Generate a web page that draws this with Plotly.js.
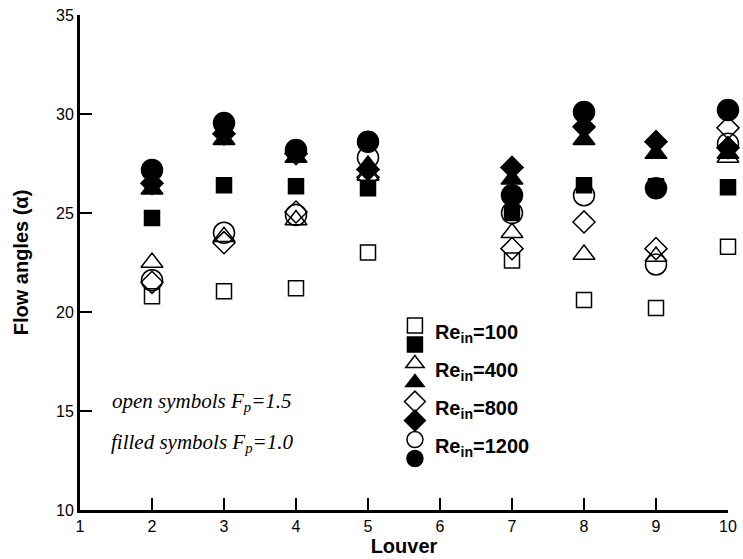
<!DOCTYPE html>
<html>
<head>
<meta charset="utf-8">
<script src="https://cdn.plot.ly/plotly-3.0.1.min.js"></script>
<style>html,body{margin:0;padding:0;background:#fff}#chart{width:743px;height:559px}</style>
</head>
<body>
<div id="chart"></div>
<script>
// Louver positions with measurements (louver 6 has no data)
var louvers = [2, 3, 4, 5, 7, 8, 9, 10];

// Open symbols: Fp = 1.5 ; filled symbols: Fp = 1.0
var open100    = [20.8, 21.05, 21.2, 23.0, 22.6, 20.6, 20.2, 23.3];
var filled100  = [24.75, 26.4, 26.35, 26.25, 25.0, 26.4, 26.35, 26.3];
var open400    = [22.5, 23.8, 24.65, 26.9, 24.0, 22.9, 22.8, 27.8];
var filled400  = [26.2, 28.7, 27.8, 27.4, 26.7, 28.7, 28.0, 28.0];
var open800    = [21.5, 23.5, 25.05, 26.8, 23.2, 24.55, 23.2, 29.3];
var filled800  = [26.5, 29.0, 28.0, 27.2, 27.3, 29.35, 28.6, 28.3];
var open1200   = [21.6, 24.0, 24.9, 27.8, 25.0, 25.9, 22.4, 28.5];
var filled1200 = [27.17, 29.55, 28.18, 28.6, 25.9, 30.1, 26.25, 30.2];

var seriesNames = ['Re<sub>in</sub>=100', 'Re<sub>in</sub>=400', 'Re<sub>in</sub>=800', 'Re<sub>in</sub>=1200'];
var xTickVals = [1, 2, 3, 4, 5, 6, 7, 8, 9, 10];
var yTickVals = [10, 15, 20, 25, 30, 35];

function lbl(t) {
  return '<span style="font-size:20px;baseline-shift:-9px"><b>' + t + '</b></span>';
}
function tr(y, symbol, size, name) {
  return {
    type: 'scatter', mode: 'markers', x: louvers, y: y,
    name: name, cliponaxis: false,
    marker: {symbol: symbol, size: size, color: '#000', line: {color: '#000', width: 1.5}}
  };
}

var data = [
  tr(open100, 'square-open', 15, lbl(seriesNames[0])),
  tr(filled100, 'square', 15, ' '),
  tr(open400, 'triangle-up-open', 19, lbl(seriesNames[1])),
  tr(filled400, 'triangle-up', 19, ' '),
  tr(open800, 'diamond-open', 17, lbl(seriesNames[2])),
  tr(filled800, 'diamond', 17, ' '),
  tr(open1200, 'circle-open', 21, lbl(seriesNames[3])),
  tr(filled1200, 'circle', 21, ' ')
];

var axisFont = {family: 'Liberation Sans, Arial, sans-serif', size: 16, color: '#000'};
var noteFont = {family: 'Liberation Serif, Times New Roman, serif', size: 21, color: '#000'};

var layout = {
  width: 743, height: 559,
  margin: {l: 80, r: 15, t: 15, b: 49},
  paper_bgcolor: '#fff', plot_bgcolor: '#fff',
  showlegend: true,
  legend: {
    x: 0.486, y: 0.402, xanchor: 'left', yanchor: 'top',
    bgcolor: 'rgba(0,0,0,0)', borderwidth: 0,
    font: {family: 'Liberation Sans, Arial, sans-serif', size: 12, color: '#000'},
    tracegroupgap: 0
  },
  xaxis: {
    range: [1, 10], tickmode: 'array', tickvals: xTickVals,
    showline: true, linewidth: 3, linecolor: '#000', mirror: false,
    ticks: 'inside', ticklen: 12, tickwidth: 2.5, tickcolor: '#000',
    showgrid: false, zeroline: false, tickfont: axisFont,
    title: {text: '<b>Louver</b>', font: {family: 'Liberation Sans, Arial, sans-serif', size: 20, color: '#000'}, standoff: 3}
  },
  yaxis: {
    range: [10, 35], tickmode: 'array', tickvals: yTickVals,
    showline: true, linewidth: 3, linecolor: '#000', mirror: false,
    ticks: 'inside', ticklen: 12, tickwidth: 2.5, tickcolor: '#000',
    showgrid: false, zeroline: false, tickfont: axisFont,
    title: {text: '<b>Flow angles (α)</b>', font: {family: 'Liberation Sans, Arial, sans-serif', size: 20, color: '#000'}, standoff: 23}
  },
  annotations: [
    {xref: 'paper', yref: 'paper', x: 0.188, y: 0.218, xanchor: 'center', yanchor: 'middle', showarrow: false,
     text: '<i>open symbols F<sub>p</sub>=1.5</i>', font: noteFont},
    {xref: 'paper', yref: 'paper', x: 0.188, y: 0.135, xanchor: 'center', yanchor: 'middle', showarrow: false,
     text: '<i>filled symbols F<sub>p</sub>=1.0</i>', font: noteFont}
  ]
};

Plotly.newPlot('chart', data, layout, {displayModeBar: false, staticPlot: true});
</script>
</body>
</html>
